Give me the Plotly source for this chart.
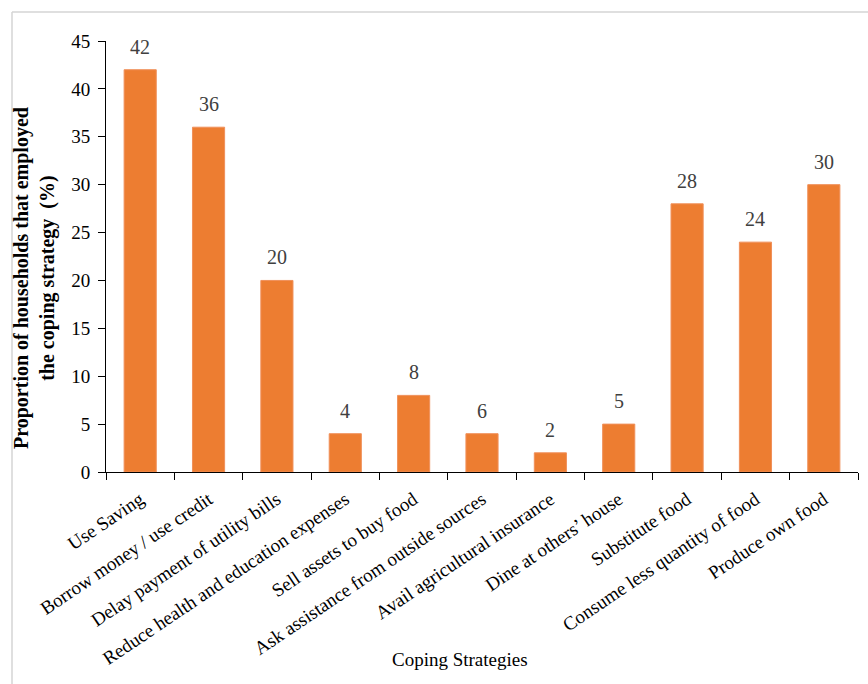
import plotly.graph_objects as go

categories = [
    "Use Saving",
    "Borrow money / use credit",
    "Delay payment of utility bills",
    "Reduce health and education expenses",
    "Sell assets to buy food",
    "Ask assistance from outside sources",
    "Avail agricultural insurance",
    "Dine at others\u2019 house",
    "Substitute food",
    "Consume less quantity of food",
    "Produce own food",
]
bar_values = [42, 36, 20, 4, 8, 4, 2, 5, 28, 24, 30]
value_labels = ["42", "36", "20", "4", "8", "6", "2", "5", "28", "24", "30"]
y_ticks = [0, 5, 10, 15, 20, 25, 30, 35, 40, 45]

W, H = 868, 684
L, R, T, B = 106, 10, 41, 212
pw = W - L - R
ph = H - T - B

SERIF = "Liberation Serif, Times New Roman, serif"
ORANGE = "#ED7D31"

fig = go.Figure()
fig.add_trace(go.Bar(
    x=categories, y=bar_values,
    marker=dict(color=ORANGE, line=dict(color="#F0905A", width=1)),
    hoverinfo="x+y",
    showlegend=False,
))

annotations = []
for c, v, lab in zip(categories, bar_values, value_labels):
    annotations.append(dict(
        x=c, y=v, xref="x", yref="y", text=lab, showarrow=False,
        yanchor="middle", yshift=23,
        font=dict(family=SERIF, size=20, color="#404040"),
    ))

annotations.append(dict(
    xref="paper", yref="paper",
    x=(34 - L) / pw, y=(H - B - 278) / ph,
    text="<b>Proportion of households that employed<br>the coping strategy  (%)</b>",
    textangle=-90, showarrow=False, xanchor="center", yanchor="middle",
    font=dict(family=SERIF, size=20, color="#000000"),
))
annotations.append(dict(
    xref="paper", yref="paper",
    x=(460 - L) / pw, y=(H - B - 659) / ph,
    text="Coping Strategies", showarrow=False,
    xanchor="center", yanchor="middle",
    font=dict(family=SERIF, size=19, color="#000000"),
))

shapes = [
    dict(type="line", xref="paper", yref="paper",
         x0=(12 - L) / pw, x1=(W + 20 - L) / pw,
         y0=(H - B - 12) / ph, y1=(H - B - 12) / ph,
         line=dict(color="#d4d4d4", width=1.5)),
    dict(type="line", xref="paper", yref="paper",
         x0=(12 - L) / pw, x1=(12 - L) / pw,
         y0=(H - B - 12) / ph, y1=(H - B - H - 20) / ph,
         line=dict(color="#d4d4d4", width=1.5)),
]

fig.update_layout(
    width=W, height=H,
    margin=dict(l=L, r=R, t=T, b=B, pad=0),
    paper_bgcolor="white", plot_bgcolor="white",
    bargap=0.53,
    font=dict(family=SERIF, size=16, color="#000000"),
    annotations=annotations,
    shapes=shapes,
    xaxis=dict(
        type="category",
        tickangle=-34,
        tickson="boundaries",
        ticks="outside", ticklen=7, tickcolor="#000000", tickwidth=1,
        ticklabelstandoff=8,
        showline=True, linecolor="#000000", linewidth=1,
        showgrid=False,
        tickfont=dict(family=SERIF, size=19, color="#000000"),
    ),
    yaxis=dict(
        range=[0, 45],
        tickvals=y_ticks,
        ticks="outside", ticklen=7, tickcolor="#000000", tickwidth=1,
        ticklabelstandoff=4,
        showline=True, linecolor="#000000", linewidth=1,
        showgrid=False, zeroline=False,
        tickfont=dict(family=SERIF, size=19, color="#000000"),
    ),
)

fig.write_html("out.html")
